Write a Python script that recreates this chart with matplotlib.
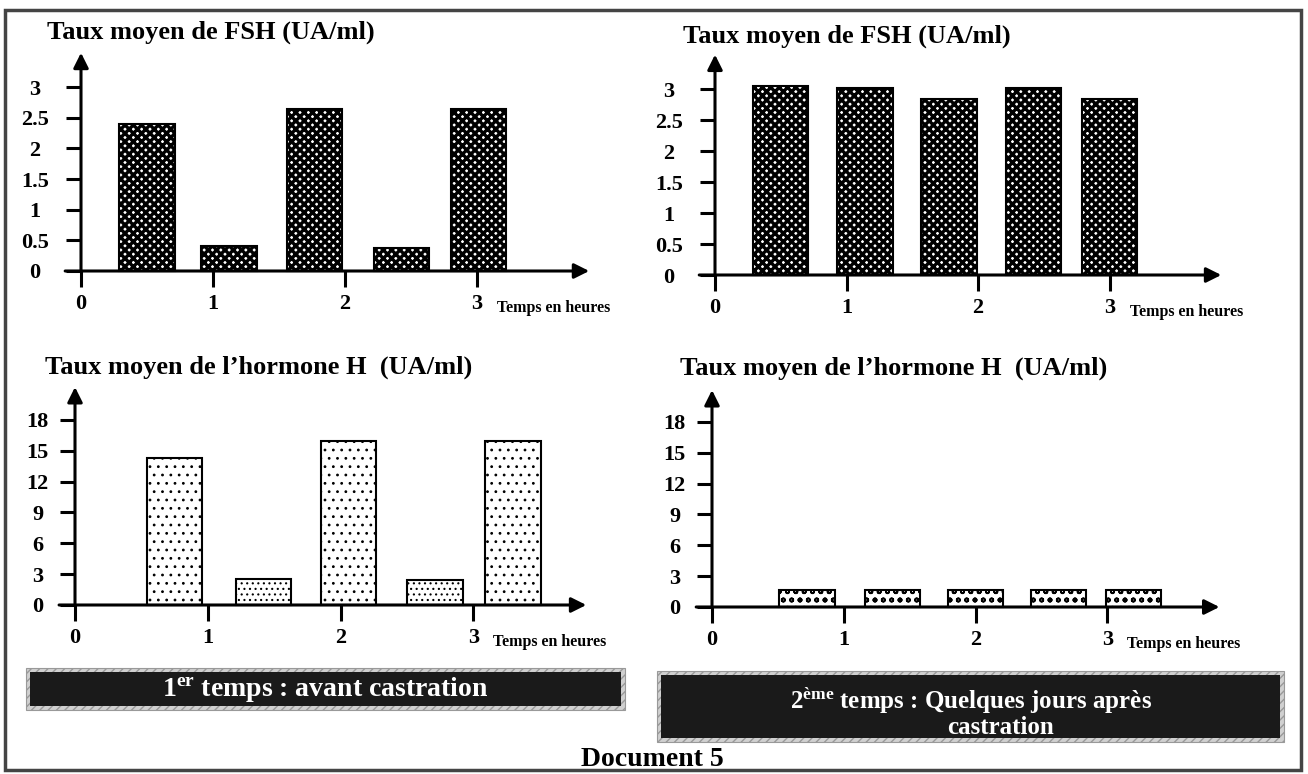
import matplotlib.pyplot as plt
from matplotlib.patches import Rectangle

plt.rcParams['font.family'] = ['Liberation Serif', 'DejaVu Serif']
plt.rcParams['font.weight'] = 'bold'
plt.rcParams['mathtext.fontset'] = 'custom'
plt.rcParams['mathtext.rm'] = 'Liberation Serif:bold'
plt.rcParams['mathtext.it'] = 'Liberation Serif:bold'
plt.rcParams['mathtext.bf'] = 'Liberation Serif:bold'

fsh_before_t = [0.50, 1.12, 1.77, 2.43, 3.01]
fsh_before = [2.4, 0.4, 2.65, 0.38, 2.65]
fsh_after_t = [0.50, 1.14, 1.78, 2.42, 3.00]
fsh_after = [3.05, 3.02, 2.85, 3.02, 2.85]
h_before_t = [0.75, 1.42, 2.06, 2.71, 3.30]
h_before = [14.3, 2.5, 16.0, 2.4, 16.0]
h_after_t = [0.72, 1.37, 2.00, 2.63, 3.20]
h_after = [1.7, 1.7, 1.7, 1.7, 1.7]

hour_ticks = [0, 1, 2, 3]
fsh_ticks = [0, 0.5, 1, 1.5, 2, 2.5, 3]
fsh_labels = ['0', '0.5', '1', '1.5', '2', '2.5', '3']
h_ticks = [0, 3, 6, 9, 12, 15, 18]

title_fsh = 'Taux moyen de FSH (UA/ml)'
title_h = 'Taux moyen de l\u2019hormone H  (UA/ml)'
x_label = 'Temps en heures'

W, H = 1308, 774
fig = plt.figure(figsize=(W / 100, H / 100), dpi=100)

# background axes in pixel units for frame, titles and captions
bg = fig.add_axes([0, 0, 1, 1])
bg.set_xlim(0, W)
bg.set_ylim(H, 0)
bg.axis('off')


def make_axis(x0, y0, px_h, px_u, ymin, ymax, ytop, ypad):
    # x0, y0 = pixel of the origin; px_h = pixels per hour; px_u = pixels per unit
    xmin, xmax = -0.6, 4.3
    ax = fig.add_axes([(x0 + xmin * px_h) / W, (H - y0 + ymin * px_u) / H,
                       (xmax - xmin) * px_h / W, (ymax - ymin) * px_u / H])
    ax.set_xlim(xmin, xmax)
    ax.set_ylim(ymin, ymax)
    ax.patch.set_visible(False)
    for s in ax.spines.values():
        s.set_visible(False)
    ax.spines['left'].set_position(('data', 0))
    ax.spines['bottom'].set_position(('data', 0))
    arrow = dict(arrowstyle='-|>,head_length=0.9,head_width=0.45', lw=2.2,
                 color='black', shrinkA=0, shrinkB=0)
    ax.annotate('', xy=(3.85, 0), xytext=(-0.12, 0), arrowprops=arrow, zorder=4)
    ax.annotate('', xy=(0, ytop), xytext=(0, 0), arrowprops=arrow, zorder=4)
    ax.set_xticks(hour_ticks)
    ax.set_xticklabels([str(h) for h in hour_ticks])
    ax.tick_params(axis='x', direction='out', length=11.5, width=2.2, pad=5,
                   labelsize=16)
    ax.tick_params(axis='y', direction='out', length=11, width=2.2, pad=ypad,
                   labelsize=16)
    ax.annotate(x_label, xy=(3, 0), xytext=(20, -37), textcoords='offset pixels',
                fontsize=11.5, ha='left', va='center', annotation_clip=False)
    return ax


def draw_bars(ax, t, v, hatch, hlw):
    with plt.rc_context({'hatch.linewidth': hlw}):
        bars = ax.bar(t, v, width=0.42, color='white', edgecolor='black',
                      hatch=hatch, linewidth=1.5, zorder=2)
    for b in bars:
        if hasattr(b, 'set_hatch_linewidth'):
            b.set_hatch_linewidth(hlw)
    return bars


# 1er temps : FSH
ax1 = make_axis(81, 271, 132, 61.3, -0.9, 3.7, 3.56, 22)
draw_bars(ax1, fsh_before_t, fsh_before, 'xxxx', 2.4)
ax1.set_yticks(fsh_ticks)
ax1.set_yticklabels(fsh_labels)

# 2eme temps : FSH
ax2 = make_axis(715, 275, 131.5, 61.9, -0.9, 3.7, 3.56, 22)
draw_bars(ax2, fsh_after_t, fsh_after, 'xxxx', 2.4)
ax2.set_yticks(fsh_ticks)
ax2.set_yticklabels(fsh_labels)

# 1er temps : hormone H
ax3 = make_axis(75, 605, 132.8, 10.28, -5, 22, 21.2, 16)
big = [v > 5 for v in h_before]
draw_bars(ax3, [t for t, b in zip(h_before_t, big) if b],
          [v for v, b in zip(h_before, big) if b], '..', 0.8)
draw_bars(ax3, [t for t, b in zip(h_before_t, big) if not b],
          [v for v, b in zip(h_before, big) if not b], '...', 0.8)
ax3.set_yticks(h_ticks)

# 2eme temps : hormone H
ax4 = make_axis(712, 607, 131.8, 10.28, -5, 22, 21.1, 16)
draw_bars(ax4, h_after_t, h_after, 'oo', 1.2)
ax4.set_yticks(h_ticks)

for ax in [ax1, ax2, ax3, ax4]:
    for lbl in ax.get_yticklabels():
        lbl.set_horizontalalignment('center')

# titles
bg.text(47, 32, title_fsh, fontsize=19, ha='left', va='center')
bg.text(683, 36, title_fsh, fontsize=19, ha='left', va='center')
bg.text(45, 367, title_h, fontsize=19, ha='left', va='center')
bg.text(680, 368, title_h, fontsize=19, ha='left', va='center')

# captions
for x0, y0, x1, y1 in [(30, 672, 621, 706), (661, 675, 1280, 738)]:
    bg.add_patch(Rectangle((x0 - 4, y0 - 4), x1 - x0 + 8, y1 - y0 + 8, facecolor='#d0d0d0',
                           edgecolor='#999999', hatch='////', linewidth=0.8))
    bg.add_patch(Rectangle((x0, y0), x1 - x0, y1 - y0, facecolor='#1a1a1a', edgecolor='none'))
bg.text(325, 690, r'1$^{\mathrm{er}}$ temps : avant castration', color='white',
        fontsize=20, ha='center', va='center')
bg.text(971, 700, '2$^{\\mathrm{\u00e8me}}$ temps : Quelques jours apr\u00e8s',
        color='white', fontsize=18, ha='center', va='center')
bg.text(1000, 727, 'castration', color='white', fontsize=18, ha='center', va='center')

bg.text(652, 759, 'Document 5', fontsize=20, ha='center', va='center')

# outer frame
bg.add_patch(Rectangle((5, 10), 1296, 760, facecolor='none', edgecolor='#444444', linewidth=2.5))

fig.savefig('out.png', dpi=100)
